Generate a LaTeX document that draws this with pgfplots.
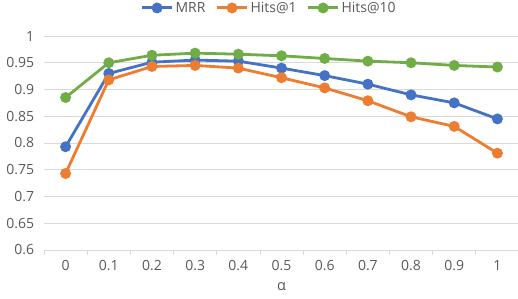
\documentclass[border=0pt]{standalone}
\usepackage{pgfplots}
\pgfplotsset{compat=1.18}
\usepackage{fontspec}
\setmainfont{Open Sans}
\definecolor{cblue}{HTML}{4472C4}
\definecolor{corange}{HTML}{ED7D31}
\definecolor{cgreen}{HTML}{70AD47}
\definecolor{cgrid}{HTML}{D9D9D9}
\definecolor{ctext}{HTML}{595959}
\begin{document}
\begin{tikzpicture}
\path[use as bounding box] (-44pt,-48pt) rectangle (474pt,250pt);
\begin{axis}[
  at={(0pt,0pt)}, anchor=south west,
  scale only axis, width=475pt, height=214pt,
  xmin=-0.5, xmax=10.5, ymin=0.6, ymax=1,
  xtick={0,...,10},
  xticklabels={0,0.1,0.2,0.3,0.4,0.5,0.6,0.7,0.8,0.9,1},
  minor xtick={-0.5,0.5,...,10.5},
  major x tick style={draw=none},
  minor x tick style={draw=cgrid, line width=0.8pt},
  minor tick length=5pt,
  tick align=outside,
  ytick={0.6,0.65,...,1.01},
  yticklabel style={/pgf/number format/fixed, /pgf/number format/precision=2},
  /pgf/number format/assume math mode=true,
  ytick style={draw=none},
  ymajorgrids, grid style={cgrid, line width=0.8pt},
  axis x line*=bottom,
  axis y line*=left,
  x axis line style={draw=cgrid, line width=0.8pt, -},
  y axis line style={draw=none},
  ticklabel style={font=\fontsize{14}{16}\selectfont, text=ctext},
  xticklabel style={yshift=-3pt},
  yticklabel style={xshift=-2pt},
  xlabel={α}, xlabel style={font=\fontsize{14.5}{16}\selectfont, text=ctext, yshift=-5pt},
  legend style={at={(0.474,1.131)}, anchor=center, draw=none, fill=none,
    legend columns=-1, font=\fontsize{14}{16}\selectfont, text=ctext,
    /tikz/every even column/.append style={column sep=8pt}},
  legend image code/.code={\draw[#1, line width=3pt] (0pt,0pt) -- (30pt,0pt); \fill[#1] (15pt,0pt) circle (4pt);},
  every axis plot/.append style={line width=2.8pt, mark=*, mark size=4pt},
]
\addplot[cblue, mark options={fill=cblue, draw=cblue}] coordinates {
(0,0.793)(1,0.930)(2,0.951)(3,0.955)(4,0.953)(5,0.940)(6,0.926)(7,0.910)(8,0.890)(9,0.875)(10,0.845)};
\addlegendentry{MRR}
\addplot[corange, mark options={fill=corange, draw=corange}] coordinates {
(0,0.743)(1,0.918)(2,0.943)(3,0.945)(4,0.940)(5,0.922)(6,0.903)(7,0.879)(8,0.849)(9,0.831)(10,0.781)};
\addlegendentry{Hits@1}
\addplot[cgreen, mark options={fill=cgreen, draw=cgreen}] coordinates {
(0,0.885)(1,0.950)(2,0.964)(3,0.968)(4,0.966)(5,0.963)(6,0.958)(7,0.953)(8,0.950)(9,0.945)(10,0.942)};
\addlegendentry{Hits@10}
\end{axis}
\end{tikzpicture}
\end{document}
